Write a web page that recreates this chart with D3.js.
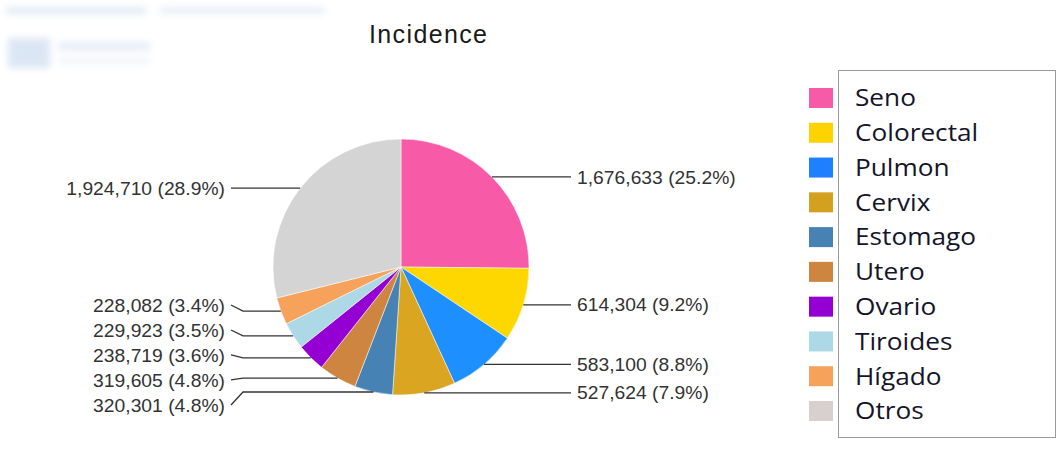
<!DOCTYPE html>
<html>
<head>
<meta charset="utf-8">
<script src="https://cdn.jsdelivr.net/npm/d3@7"></script>
<style>
  html, body { margin: 0; padding: 0; background: #ffffff; }
  svg { display: block; }
</style>
</head>
<body>
<svg id="chart" width="1057" height="449"></svg>
<script>
// ---- data ----
const categories = ["Seno", "Colorectal", "Pulmon", "Cervix", "Estomago", "Utero", "Ovario", "Tiroides", "Hígado", "Otros"];
const values = [1676633, 614304, 583100, 527624, 320301, 319605, 238719, 229923, 228082, 1924710];
const colors = ["#f75ba8", "#ffd700", "#1e8fff", "#daa520", "#4682b4", "#cd853f", "#9400d3", "#add8e6", "#f7a25a", "#d4d4d4"];
const legendSwatchColors = ["#f75ba8", "#ffd200", "#1e7fff", "#d4a020", "#4682b4", "#cd853f", "#9400d3", "#add8e6", "#f7a25a", "#d8cfcf"];
const title = "Incidence";

// ---- layout ----
const W = 1057, H = 449;
const cx = 401, cy = 267, R = 128;
const svg = d3.select("#chart");

// blurred header artefact
const defs = svg.append("defs");
defs.append("filter").attr("id", "blur").attr("x", "-20%").attr("y", "-50%").attr("width", "140%").attr("height", "200%")
  .append("feGaussianBlur").attr("stdDeviation", 3.5);
const hdr = svg.append("g").attr("filter", "url(#blur)").attr("opacity", 0.4);
hdr.append("rect").attr("x", 6).attr("y", 7).attr("width", 140).attr("height", 7).attr("fill", "#b9cde6");
hdr.append("rect").attr("x", 160).attr("y", 7).attr("width", 165).attr("height", 7).attr("fill", "#c9d8ec");
hdr.append("rect").attr("x", 8).attr("y", 38).attr("width", 42).attr("height", 30).attr("fill", "#a8c2e4");
hdr.append("rect").attr("x", 58).attr("y", 42).attr("width", 92).attr("height", 9).attr("fill", "#c2d6ee");
hdr.append("rect").attr("x", 58).attr("y", 58).attr("width", 92).attr("height", 6).attr("fill", "#d4e2f2");

// title
svg.append("text")
  .attr("x", 428).attr("y", 43)
  .attr("text-anchor", "middle")
  .attr("font-family", "Liberation Sans, Arial, sans-serif")
  .attr("font-size", 25)
  .attr("fill", "#1a1a1a")
  .attr("textLength", 118)
  .text(title);

const total = d3.sum(values);
const data = categories.map((c, i) => ({ name: c, value: values[i], color: colors[i] }));
const pie = d3.pie().value(d => d.value).sort(null);
const arcs = pie(data);
const arc = d3.arc().innerRadius(0).outerRadius(R);

const g = svg.append("g").attr("transform", `translate(${cx},${cy})`);
g.selectAll("path.slice")
  .data(arcs)
  .join("path")
  .attr("class", "slice")
  .attr("d", arc)
  .attr("fill", d => d.data.color)
  .attr("stroke", "#ffffff")
  .attr("stroke-width", 0.5);

// labels
const fmt = d3.format(",");
const labels = arcs.map(a => {
  const mid = (a.startAngle + a.endAngle) / 2;
  const ax = Math.sin(mid) * R, ay = -Math.cos(mid) * R;
  return {
    a, mid, ax, ay,
    right: Math.sin(mid) >= 0,
    y: ay,
    text: `${fmt(a.data.value)} (${(a.data.value / total * 100).toFixed(1)}%)`
  };
});
const gap = 25;
["right", "left"].forEach(side => {
  const arr = labels.filter(l => (side === "right") === l.right).sort((p, q) => p.y - q.y);
  for (let it = 0; it < 300; it++) {
    for (let i = 1; i < arr.length; i++) {
      const d = arr[i].y - arr[i - 1].y;
      if (d < gap) {
        const push = (gap - d) / 2;
        arr[i].y += push;
        arr[i - 1].y -= push;
      }
    }
  }
});

const lineEndOffset = R + 42;
const lg = g.append("g");
labels.forEach(l => {
  const sgn = l.right ? 1 : -1;
  const ex = sgn * lineEndOffset;
  const kx = ex - sgn * 12;
  const pts = [[l.ax, l.ay], [kx, l.ay], [ex, l.y]];
  lg.append("path")
    .attr("d", d3.line()(pts))
    .attr("fill", "none")
    .attr("stroke", "#333")
    .attr("stroke-width", 1.3);
  lg.append("text")
    .attr("transform", `translate(${ex + sgn * 6},${l.y}) scale(1.06,1)`)
    .attr("dy", "0.36em")
    .attr("text-anchor", l.right ? "start" : "end")
    .attr("font-family", "Liberation Sans, Arial, sans-serif")
    .attr("font-size", 18.2)
    .attr("fill", "#333")
    .text(l.text);
});

// legend
const legX = 838, legY = 70, legW = 217, legH = 367;
svg.append("rect")
  .attr("x", legX + 0.5).attr("y", legY + 0.5)
  .attr("width", legW).attr("height", legH)
  .attr("fill", "#fff")
  .attr("stroke", "#9a9a9a");
const rowY = d3.scalePoint().domain(categories).range([98, 411]);
const leg = svg.append("g");
categories.forEach((c, i) => {
  const y = rowY(c);
  leg.append("rect")
    .attr("x", 809).attr("y", y - 10)
    .attr("width", 24).attr("height", 20)
    .attr("fill", legendSwatchColors[i]);
  leg.append("text")
    .attr("transform", `translate(855,${y}) scale(1.14,1)`)
    .attr("dy", "0.36em")
    .attr("font-family", "Open Sans, sans-serif")
    .attr("font-size", 23)
    .attr("fill", "#14142a")
    .text(c);
});
</script>
</body>
</html>
